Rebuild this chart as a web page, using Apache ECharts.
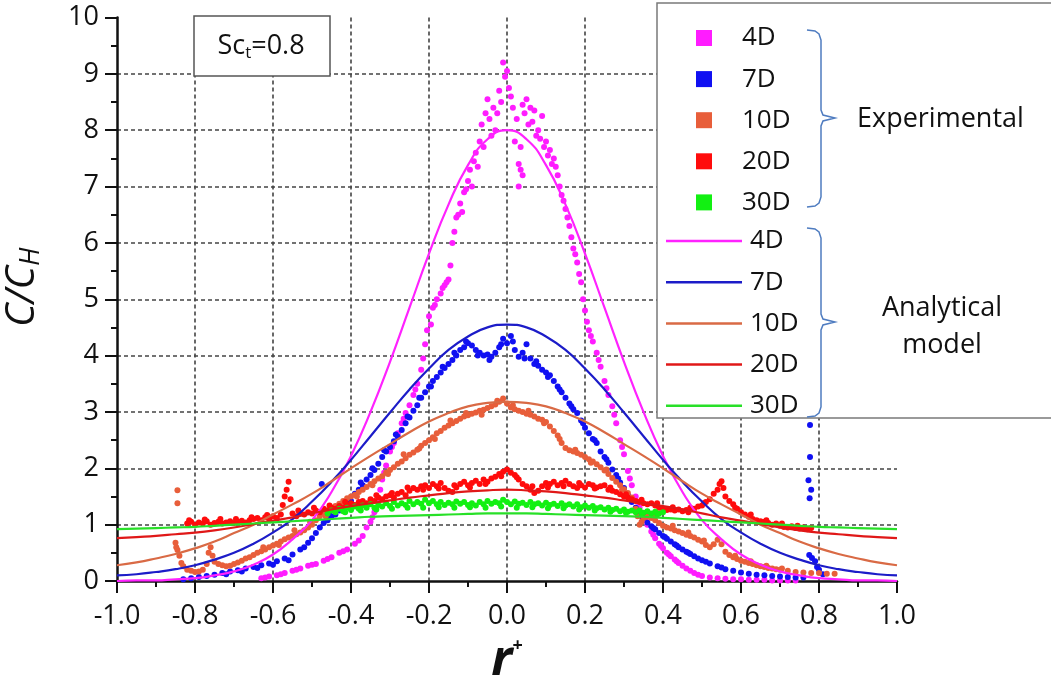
<!DOCTYPE html>
<html>
<head>
<meta charset="utf-8">
<script src="https://cdn.jsdelivr.net/npm/echarts@6/dist/echarts.min.js"></script>
<style>html,body{margin:0;padding:0;background:#fff;}#c{width:1051px;height:688px;}</style>
</head>
<body>
<div id="c"></div>
<script>
// ---- tick labels ----
const xTicks = ['-1.0','-0.8','-0.6','-0.4','-0.2','0.0','0.2','0.4','0.6','0.8','1.0'];
const yTicks = ['0','1','2','3','4','5','6','7','8','9','10'];

// ---- legend names ----
const expNames = ['4D','7D','10D','20D','30D'];
const modelNames = ['4D A','7D A','10D A','20D A','30D A'];

// ---- experimental data [r+, C/CH] ----
const exp4D = [[-0.63,0.05],[-0.61,0.08],[-0.59,0.1],[-0.57,0.14],[-0.55,0.18],[-0.53,0.22],[-0.51,0.27],[-0.49,0.3],[-0.47,0.36],[-0.45,0.42],[-0.43,0.5],[-0.41,0.56],[-0.39,0.66],[-0.37,0.8],[-0.36,0.95],[-0.35,1.05],[-0.34,1.22],[-0.33,1.45],[-0.325,1.62],[-0.32,1.8],[-0.31,2.05],[-0.3,2.3],[-0.29,2.45],[-0.28,2.62],[-0.27,2.8],[-0.26,2.98],[-0.25,3.12],[-0.24,3.3],[-0.23,3.5],[-0.22,3.75],[-0.215,3.95],[-0.21,4.2],[-0.205,4.45],[-0.2,4.7],[-0.195,4.55],[-0.19,4.85],[-0.18,5.0],[-0.17,5.1],[-0.16,5.25],[-0.15,5.35],[-0.145,5.6],[-0.14,6.0],[-0.135,6.2],[-0.13,6.45],[-0.12,6.7],[-0.115,6.55],[-0.11,6.9],[-0.1,7.1],[-0.095,7.3],[-0.09,7.0],[-0.085,7.45],[-0.08,7.6],[-0.075,7.35],[-0.07,7.8],[-0.065,8.1],[-0.06,7.7],[-0.055,8.3],[-0.05,8.55],[-0.045,8.2],[-0.04,7.9],[-0.035,8.4],[-0.03,8.0],[-0.025,8.3],[-0.02,8.7],[-0.015,8.5],[-0.01,9.2],[-0.005,8.95],[0.0,9.05],[0.005,8.75],[0.01,8.6],[0.015,8.4],[0.02,7.8],[0.025,8.2],[0.03,7.0],[0.035,7.3],[0.04,7.2],[0.03,7.4],[0.035,7.7],[0.04,8.45],[0.045,8.3],[0.05,8.55],[0.055,8.1],[0.06,8.4],[0.065,8.15],[0.07,8.35],[0.075,7.9],[0.08,8.0],[0.085,7.85],[0.09,8.25],[0.095,7.7],[0.1,7.8],[0.105,7.55],[0.11,7.65],[0.115,7.4],[0.12,7.5],[0.125,7.35],[0.13,7.2],[0.135,7.0],[0.14,6.85],[0.145,6.75],[0.15,6.6],[0.155,6.45],[0.16,6.3],[0.165,6.1],[0.17,5.9],[0.175,5.8],[0.18,5.65],[0.185,5.45],[0.19,5.3],[0.195,5.0],[0.2,4.8],[0.205,4.6],[0.21,4.45],[0.22,4.25],[0.23,4.05],[0.24,3.8],[0.25,3.55],[0.26,3.3],[0.27,3.1],[0.28,2.8],[0.29,2.5],[0.3,2.25],[0.31,1.95],[0.32,1.7],[0.33,1.5],[0.34,1.3],[0.35,1.15],[0.36,1.0],[0.37,0.88],[0.38,0.76],[0.39,0.66],[0.4,0.58],[0.41,0.5],[0.42,0.44],[0.43,0.38],[0.44,0.32],[0.45,0.27],[0.46,0.22],[0.47,0.18],[0.48,0.14],[0.49,0.11],[0.5,0.09],[0.52,0.06],[0.54,0.05],[0.56,0.04],[0.58,0.03],[0.6,0.03],[0.62,0.02],[0.64,0.02],[0.66,0.02],[0.68,0.01],[0.7,0.01],[0.72,0.01],[0.74,0.01],[-0.62,0.06],[-0.58,0.12],[-0.54,0.2],[-0.5,0.29],[-0.46,0.39],[-0.42,0.53],[-0.38,0.72],[-0.345,1.13],[-0.315,1.92],[-0.295,2.38],[-0.265,2.88],[-0.235,3.4],[-0.185,4.9],[-0.165,5.2],[-0.155,5.3],[-0.125,6.5],[-0.105,6.95],[0.215,4.35],[0.235,3.92],[0.255,3.42],[0.275,2.95],[0.295,2.38],[0.315,1.82],[0.335,1.4],[0.355,1.08],[0.375,0.82],[0.395,0.62],[0.415,0.47],[0.435,0.35]];

const exp7D = [[-0.83,0.03],[-0.81,0.05],[-0.79,0.07],[-0.77,0.09],[-0.75,0.11],[-0.73,0.14],[-0.71,0.17],[-0.69,0.19],[-0.67,0.22],[-0.65,0.25],[-0.63,0.28],[-0.61,0.31],[-0.59,0.35],[-0.57,0.4],[-0.55,0.47],[-0.53,0.56],[-0.51,0.68],[-0.5,0.76],[-0.49,0.85],[-0.48,0.95],[-0.475,1.72],[-0.47,1.03],[-0.46,1.08],[-0.45,1.14],[-0.44,1.18],[-0.43,1.25],[-0.42,1.3],[-0.41,1.36],[-0.4,1.42],[-0.39,1.55],[-0.38,1.62],[-0.37,1.7],[-0.36,1.8],[-0.35,1.88],[-0.34,1.97],[-0.33,2.08],[-0.32,2.2],[-0.31,2.3],[-0.3,2.38],[-0.29,2.48],[-0.28,2.56],[-0.27,2.68],[-0.26,2.8],[-0.25,2.9],[-0.24,3.02],[-0.23,3.12],[-0.22,3.25],[-0.21,3.35],[-0.2,3.45],[-0.19,3.55],[-0.18,3.62],[-0.17,3.7],[-0.16,3.78],[-0.15,3.85],[-0.14,3.92],[-0.13,4.0],[-0.12,4.1],[-0.11,4.15],[-0.1,4.22],[-0.09,4.18],[-0.08,4.1],[-0.07,4.05],[-0.06,4.0],[-0.05,4.02],[-0.04,3.98],[-0.03,4.05],[-0.02,4.15],[-0.01,4.3],[0.0,4.22],[0.01,4.35],[0.02,4.1],[0.03,3.98],[0.04,4.05],[0.05,4.2],[0.06,3.95],[0.07,3.85],[0.08,3.82],[0.09,3.75],[0.1,3.7],[0.11,3.65],[0.12,3.55],[0.13,3.45],[0.14,3.35],[0.15,3.25],[0.16,3.15],[0.17,3.05],[0.18,2.98],[0.19,2.85],[0.2,2.72],[0.21,2.62],[0.22,2.52],[0.23,2.45],[0.24,2.3],[0.25,2.2],[0.26,2.1],[0.27,1.98],[0.28,1.88],[0.29,1.75],[0.3,1.65],[0.31,1.52],[0.32,1.4],[0.33,1.3],[0.34,1.2],[0.35,1.12],[0.36,1.04],[0.37,0.97],[0.38,0.92],[0.39,0.85],[0.4,0.8],[0.41,0.75],[0.42,0.7],[0.43,0.65],[0.44,0.6],[0.45,0.56],[0.46,0.52],[0.47,0.48],[0.48,0.44],[0.49,0.4],[0.5,0.37],[0.52,0.31],[0.54,0.26],[0.56,0.21],[0.58,0.18],[0.6,0.15],[0.62,0.13],[0.64,0.11],[0.66,0.1],[0.68,0.09],[0.7,0.08],[0.72,0.07],[0.74,0.06],[0.76,0.06],[0.777,2.77],[0.777,2.2],[0.773,1.79],[0.78,1.62],[0.776,1.47],[0.775,0.46],[0.782,0.41],[0.79,0.35],[0.795,0.25],[0.8,0.2],[0.81,0.12],[-0.72,0.12],[-0.68,0.17],[-0.64,0.23],[-0.6,0.29],[-0.56,0.37],[-0.52,0.6],[-0.455,1.17],[-0.415,1.4],[-0.375,1.75],[-0.345,2.0],[-0.315,2.32],[-0.285,2.6],[-0.255,2.92],[-0.225,3.25],[-0.195,3.45],[-0.165,3.8],[-0.135,4.05],[-0.105,4.25],[-0.075,4.0],[-0.045,3.92],[-0.015,4.2],[0.015,4.25],[0.045,3.95],[0.075,3.9],[0.105,3.62],[0.135,3.4],[0.165,3.1],[0.195,2.8],[0.225,2.5],[0.255,2.16],[0.285,1.82],[0.315,1.46],[0.345,1.15],[0.375,0.94],[0.405,0.78],[0.435,0.63],[0.465,0.5],[0.51,0.34],[0.55,0.24]];

const exp10D = [[-0.845,1.61],[-0.845,1.38],[-0.85,0.68],[-0.848,0.6],[-0.845,0.55],[-0.84,0.45],[-0.835,0.32],[-0.83,0.26],[-0.82,0.2],[-0.81,0.18],[-0.8,0.16],[-0.79,0.17],[-0.78,0.2],[-0.77,0.3],[-0.765,0.5],[-0.76,0.6],[-0.755,0.45],[-0.75,0.34],[-0.74,0.3],[-0.73,0.28],[-0.72,0.26],[-0.71,0.27],[-0.7,0.3],[-0.69,0.33],[-0.68,0.36],[-0.67,0.4],[-0.66,0.42],[-0.65,0.46],[-0.64,0.5],[-0.63,0.53],[-0.62,0.56],[-0.61,0.6],[-0.6,0.63],[-0.59,0.66],[-0.58,0.7],[-0.57,0.74],[-0.56,0.77],[-0.55,0.8],[-0.54,0.83],[-0.53,0.86],[-0.52,0.9],[-0.51,0.95],[-0.5,1.0],[-0.49,1.08],[-0.48,1.15],[-0.47,1.2],[-0.46,1.25],[-0.45,1.3],[-0.44,1.33],[-0.43,1.37],[-0.42,1.42],[-0.41,1.47],[-0.4,1.5],[-0.39,1.53],[-0.38,1.58],[-0.37,1.62],[-0.36,1.67],[-0.35,1.72],[-0.34,1.77],[-0.33,1.82],[-0.32,1.86],[-0.31,1.92],[-0.3,1.97],[-0.29,2.02],[-0.28,2.08],[-0.27,2.12],[-0.26,2.18],[-0.25,2.24],[-0.24,2.28],[-0.23,2.33],[-0.22,2.4],[-0.21,2.45],[-0.2,2.5],[-0.19,2.55],[-0.18,2.62],[-0.17,2.66],[-0.16,2.72],[-0.15,2.76],[-0.14,2.8],[-0.13,2.84],[-0.12,2.88],[-0.11,2.92],[-0.1,2.94],[-0.09,2.97],[-0.08,2.99],[-0.07,3.02],[-0.06,3.04],[-0.05,3.07],[-0.04,3.1],[-0.03,3.13],[-0.02,3.18],[-0.01,3.24],[0.0,3.15],[0.01,3.08],[0.02,3.05],[0.03,3.02],[0.04,3.0],[0.05,2.97],[0.06,2.95],[0.07,2.92],[0.08,2.88],[0.09,2.86],[0.1,2.82],[0.11,2.74],[0.12,2.66],[0.13,2.58],[0.14,2.45],[0.15,2.36],[0.16,2.32],[0.17,2.3],[0.18,2.27],[0.19,2.24],[0.2,2.2],[0.21,2.16],[0.22,2.12],[0.23,2.07],[0.24,2.02],[0.25,1.96],[0.26,1.9],[0.27,1.83],[0.28,1.76],[0.29,1.7],[0.3,1.63],[0.31,1.56],[0.32,1.48],[0.33,1.28],[0.335,1.15],[0.34,1.0],[0.345,1.05],[0.35,1.12],[0.36,1.14],[0.37,1.12],[0.38,1.08],[0.39,1.03],[0.4,0.98],[0.41,0.95],[0.42,0.93],[0.43,0.9],[0.44,0.88],[0.45,0.85],[0.46,0.82],[0.47,0.8],[0.48,0.77],[0.49,0.73],[0.5,0.7],[0.51,0.64],[0.52,0.6],[0.53,0.65],[0.54,0.73],[0.55,0.65],[0.56,0.52],[0.57,0.46],[0.58,0.42],[0.59,0.39],[0.6,0.36],[0.61,0.34],[0.62,0.32],[0.63,0.3],[0.64,0.28],[0.65,0.26],[0.66,0.25],[0.67,0.23],[0.68,0.22],[0.69,0.21],[0.7,0.2],[0.72,0.18],[0.74,0.16],[0.76,0.15],[0.78,0.14],[0.8,0.14],[0.82,0.13],[0.84,0.13],[-0.625,0.6],[-0.585,0.64],[-0.545,0.9],[-0.505,1.05],[-0.465,1.15],[-0.425,1.32],[-0.385,1.5],[-0.345,1.7],[-0.305,1.9],[-0.265,2.25],[-0.225,2.35],[-0.185,2.52],[-0.145,2.85],[-0.105,2.98],[-0.065,2.95],[-0.025,3.2],[0.015,3.12],[0.055,3.02],[0.095,2.8],[0.135,2.52],[0.175,2.33],[0.215,2.1],[0.255,1.98],[0.295,1.62],[0.375,1.16],[0.425,0.98],[0.465,0.86],[0.505,0.72],[0.585,0.45],[0.625,0.35],[0.665,0.27],[0.705,0.22]];

const exp20D = [[-0.82,1.02],[-0.81,1.05],[-0.8,1.0],[-0.79,1.04],[-0.78,1.02],[-0.77,1.06],[-0.76,1.0],[-0.75,1.03],[-0.74,1.05],[-0.73,1.02],[-0.72,1.04],[-0.71,1.06],[-0.7,1.03],[-0.69,1.05],[-0.68,1.07],[-0.67,1.04],[-0.66,1.08],[-0.65,1.1],[-0.64,1.12],[-0.63,1.08],[-0.62,1.13],[-0.61,1.1],[-0.6,1.15],[-0.59,1.12],[-0.58,1.18],[-0.575,1.35],[-0.57,1.5],[-0.565,1.62],[-0.56,1.76],[-0.555,1.45],[-0.55,1.2],[-0.54,1.15],[-0.53,1.2],[-0.52,1.18],[-0.51,1.22],[-0.5,1.2],[-0.49,1.25],[-0.48,1.22],[-0.47,1.28],[-0.46,1.25],[-0.45,1.3],[-0.44,1.28],[-0.43,1.33],[-0.42,1.3],[-0.41,1.35],[-0.4,1.38],[-0.39,1.35],[-0.38,1.4],[-0.37,1.42],[-0.36,1.38],[-0.35,1.45],[-0.34,1.42],[-0.33,1.48],[-0.32,1.45],[-0.31,1.5],[-0.3,1.52],[-0.29,1.48],[-0.28,1.55],[-0.27,1.58],[-0.26,1.52],[-0.25,1.6],[-0.24,1.65],[-0.23,1.62],[-0.22,1.68],[-0.21,1.7],[-0.2,1.65],[-0.19,1.72],[-0.18,1.68],[-0.17,1.74],[-0.16,1.65],[-0.15,1.6],[-0.14,1.58],[-0.13,1.66],[-0.12,1.72],[-0.11,1.76],[-0.1,1.7],[-0.09,1.74],[-0.08,1.78],[-0.07,1.72],[-0.06,1.8],[-0.05,1.76],[-0.04,1.82],[-0.03,1.85],[-0.02,1.9],[-0.01,1.94],[0.0,1.98],[0.01,1.92],[0.02,1.88],[0.03,1.8],[0.04,1.72],[0.05,1.68],[0.06,1.62],[0.07,1.56],[0.08,1.6],[0.09,1.68],[0.1,1.74],[0.11,1.72],[0.12,1.76],[0.13,1.7],[0.14,1.74],[0.15,1.78],[0.16,1.72],[0.17,1.68],[0.18,1.65],[0.19,1.7],[0.2,1.66],[0.21,1.72],[0.22,1.7],[0.23,1.66],[0.24,1.68],[0.25,1.7],[0.26,1.62],[0.27,1.6],[0.28,1.58],[0.29,1.54],[0.3,1.5],[0.31,1.48],[0.32,1.45],[0.33,1.42],[0.34,1.4],[0.35,1.38],[0.36,1.36],[0.37,1.38],[0.38,1.34],[0.39,1.3],[0.4,1.28],[0.41,1.26],[0.42,1.27],[0.43,1.25],[0.44,1.27],[0.45,1.24],[0.46,1.26],[0.47,1.3],[0.48,1.28],[0.49,1.32],[0.5,1.34],[0.51,1.4],[0.52,1.45],[0.53,1.55],[0.54,1.62],[0.545,1.72],[0.55,1.77],[0.555,1.65],[0.56,1.5],[0.57,1.42],[0.58,1.36],[0.59,1.28],[0.6,1.22],[0.61,1.18],[0.62,1.14],[0.63,1.1],[0.64,1.08],[0.65,1.06],[0.66,1.05],[0.67,1.03],[0.68,1.0],[0.69,1.02],[0.7,0.98],[0.71,0.96],[0.72,0.95],[0.73,0.97],[0.74,0.94],[0.75,0.93],[0.76,0.95],[0.77,0.92],[0.78,0.94],[-0.815,1.08],[-0.775,1.09],[-0.735,1.1],[-0.695,1.1],[-0.655,1.13],[-0.615,1.17],[-0.535,1.25],[-0.495,1.3],[-0.455,1.34],[-0.415,1.4],[-0.375,1.36],[-0.335,1.52],[-0.295,1.56],[-0.255,1.66],[-0.215,1.62],[-0.175,1.64],[-0.135,1.7],[-0.095,1.66],[-0.055,1.72],[-0.015,1.86],[0.025,1.84],[0.065,1.68],[0.105,1.66],[0.145,1.68],[0.185,1.74],[0.225,1.64],[0.265,1.66],[0.305,1.54],[0.345,1.44],[0.385,1.38],[0.425,1.31],[0.465,1.22],[0.505,1.38],[0.585,1.3],[0.625,1.18],[0.665,1.08],[0.705,1.02],[0.745,0.98]];

const exp30D = [[-0.46,1.2],[-0.45,1.25],[-0.44,1.22],[-0.43,1.28],[-0.42,1.24],[-0.41,1.3],[-0.4,1.26],[-0.39,1.32],[-0.38,1.28],[-0.37,1.34],[-0.36,1.3],[-0.35,1.36],[-0.34,1.3],[-0.33,1.35],[-0.32,1.32],[-0.31,1.38],[-0.3,1.33],[-0.29,1.4],[-0.28,1.34],[-0.27,1.38],[-0.26,1.35],[-0.25,1.42],[-0.24,1.36],[-0.23,1.4],[-0.22,1.37],[-0.21,1.44],[-0.2,1.38],[-0.19,1.42],[-0.18,1.36],[-0.17,1.4],[-0.16,1.35],[-0.15,1.39],[-0.14,1.36],[-0.13,1.41],[-0.12,1.37],[-0.11,1.4],[-0.1,1.35],[-0.09,1.38],[-0.08,1.34],[-0.07,1.4],[-0.06,1.36],[-0.05,1.42],[-0.04,1.37],[-0.03,1.4],[-0.02,1.38],[-0.01,1.44],[0.0,1.4],[0.01,1.36],[0.02,1.41],[0.03,1.37],[0.04,1.39],[0.05,1.35],[0.06,1.4],[0.07,1.36],[0.08,1.38],[0.09,1.34],[0.1,1.39],[0.11,1.35],[0.12,1.37],[0.13,1.33],[0.14,1.38],[0.15,1.34],[0.16,1.36],[0.17,1.32],[0.18,1.36],[0.19,1.31],[0.2,1.34],[0.21,1.3],[0.22,1.33],[0.23,1.29],[0.24,1.31],[0.25,1.27],[0.26,1.3],[0.27,1.26],[0.28,1.28],[0.29,1.24],[0.3,1.27],[0.31,1.23],[0.32,1.25],[0.33,1.22],[0.34,1.25],[0.35,1.21],[0.36,1.24],[0.37,1.2],[0.38,1.23],[0.39,1.2],[0.4,1.22],[-0.415,1.22],[-0.375,1.25],[-0.335,1.27],[-0.295,1.28],[-0.255,1.3],[-0.215,1.3],[-0.175,1.31],[-0.135,1.3],[-0.095,1.31],[-0.055,1.3],[-0.015,1.32],[0.025,1.3],[0.065,1.31],[0.105,1.29],[0.145,1.29],[0.185,1.27],[0.225,1.25],[0.265,1.23],[0.305,1.21],[0.345,1.19],[0.385,1.18]];

// ---- analytical model ----
const modelX = [-1.0,-0.95,-0.9,-0.85,-0.8,-0.75,-0.7,-0.65,-0.6,-0.55,-0.5,-0.45,-0.4,-0.35,-0.3,-0.25,-0.2,-0.15,-0.1,-0.05,0.0,0.05,0.1,0.15,0.2,0.25,0.3,0.35,0.4,0.45,0.5,0.55,0.6,0.65,0.7,0.75,0.8,0.85,0.9,0.95,1.0];
const model4D = [0.0,0.01,0.01,0.03,0.05,0.1,0.17,0.29,0.47,0.74,1.08,1.58,2.22,3.0,3.89,4.85,5.81,6.68,7.38,7.84,8.0,7.84,7.38,6.68,5.81,4.85,3.89,3.0,2.22,1.58,1.08,0.74,0.47,0.29,0.17,0.1,0.05,0.03,0.01,0.01,0.0];
const model7D = [0.1,0.12,0.16,0.21,0.28,0.38,0.5,0.66,0.86,1.1,1.41,1.76,2.15,2.57,2.99,3.4,3.77,4.1,4.34,4.5,4.55,4.5,4.34,4.1,3.77,3.4,2.99,2.57,2.15,1.76,1.41,1.1,0.86,0.66,0.5,0.38,0.28,0.21,0.16,0.12,0.1];
const model10D = [0.28,0.33,0.4,0.48,0.58,0.7,0.85,1.0,1.18,1.36,1.55,1.77,2.0,2.22,2.43,2.64,2.83,2.98,3.1,3.16,3.18,3.16,3.1,2.98,2.83,2.64,2.43,2.22,2.0,1.77,1.55,1.36,1.18,1.0,0.85,0.7,0.58,0.48,0.4,0.33,0.28];
const model20D = [0.76,0.78,0.8,0.83,0.86,0.9,0.95,1.01,1.07,1.13,1.2,1.27,1.33,1.38,1.43,1.48,1.52,1.56,1.59,1.61,1.62,1.61,1.59,1.56,1.52,1.48,1.43,1.38,1.33,1.27,1.2,1.13,1.07,1.01,0.95,0.9,0.86,0.83,0.8,0.78,0.76];
const model30D = [0.92,0.93,0.94,0.95,0.96,0.98,1.0,1.02,1.04,1.06,1.08,1.1,1.12,1.14,1.15,1.16,1.17,1.18,1.19,1.2,1.2,1.2,1.19,1.18,1.17,1.16,1.15,1.14,1.12,1.1,1.08,1.06,1.04,1.02,1.0,0.98,0.96,0.95,0.94,0.93,0.92];

const expColors = ['#ff1cff','#1010f2','#e85e3a','#ff0c0c','#12f012'];
const modelColors = ['#ff22ff','#1c1cc8','#d96a45','#e01818','#28e028'];

const FONT = 'Open Sans';
const expData = [exp4D, exp7D, exp10D, exp20D, exp30D];
const modelData = [model4D, model7D, model10D, model20D, model30D];

const series = [];
expNames.forEach((n, i) => {
  series.push({
    name: n, type: 'scatter', data: expData[i], symbol: 'circle', symbolSize: 6,
    itemStyle: { color: expColors[i], opacity: 1 }, z: 2, silent: true
  });
});
modelNames.forEach((n, i) => {
  series.push({
    name: n, type: 'line', data: modelX.map((x, k) => [x, modelData[i][k]]),
    symbol: 'none', smooth: true, lineStyle: { color: modelColors[i], width: 2.2 },
    itemStyle: { color: modelColors[i] }, z: 3, silent: true
  });
});

function brace(top, mid, bot) {
  return [[807, top], [815, top + 1], [819, top + 4], [821, top + 10], [821, mid - 8], [823, mid - 3], [835, mid],
          [823, mid + 3], [821, mid + 8], [821, bot - 10], [819, bot - 4], [815, bot - 1], [807, bot]];
}

const axisCommon = {
  axisLine: { show: true, onZero: false, lineStyle: { color: '#111', width: 2.5 } },
  axisTick: { show: true, inside: false, length: 12, lineStyle: { color: '#111', width: 2 } },
  minorTick: { show: true, splitNumber: 2, length: 6, lineStyle: { color: '#111', width: 2 } },
  splitLine: { show: true, showMinLine: false, showMaxLine: false, lineStyle: { color: '#444', type: [4, 3], width: 1.6 } }
};

const chart = echarts.init(document.getElementById('c'));
chart.setOption({
  animation: false,
  backgroundColor: '#ffffff',
  grid: { left: 117, right: 154, top: 17.5, bottom: 107, containLabel: false, outerBoundsMode: 'none' },
  xAxis: Object.assign({
    type: 'value', min: -1.0, max: 1.0, interval: 0.2,
    axisLabel: { margin: 22, color: '#111', fontSize: 27, fontFamily: FONT,
      formatter: v => xTicks[Math.round((v + 1) / 0.2)] },
    name: '{r|r}{p|+}', nameLocation: 'middle', nameGap: 55,
    nameTextStyle: { rich: {
      r: { fontSize: 50, fontStyle: 'italic', fontWeight: 'bold', fontFamily: FONT, color: '#111' },
      p: { fontSize: 18, fontWeight: 'bold', fontFamily: FONT, color: '#111', padding: [0, 0, 30, 0] } } }
  }, axisCommon),
  yAxis: Object.assign({
    type: 'value', min: 0, max: 10, interval: 1,
    axisLabel: { margin: 18, color: '#111', fontSize: 27, fontFamily: FONT,
      formatter: v => yTicks[Math.round(v)] },
    name: '{c|C/C}{h|H}', nameLocation: 'middle', nameGap: 72, nameRotate: 90,
    nameTextStyle: { padding: [0, 0, 0, 24], rich: {
      c: { fontSize: 40, fontStyle: 'italic', fontFamily: FONT, color: '#111' },
      h: { fontSize: 27, fontStyle: 'italic', fontFamily: FONT, color: '#111', padding: [17, 0, 0, 0] } } }
  }, axisCommon),
  legend: [
    {
      data: expNames, orient: 'vertical', left: 691, top: 20, itemWidth: 16, itemHeight: 16,
      itemGap: 15.1, icon: 'rect', selectedMode: false, z: 6,
      textStyle: { fontSize: 26, fontFamily: FONT, color: '#111', padding: [0, 0, 0, 25] }
    },
    {
      data: modelNames, orient: 'vertical', left: 661, top: 223, itemWidth: 76, itemHeight: 2.5,
      itemGap: 15.2, icon: 'rect', selectedMode: false, z: 6,
      formatter: n => n.replace(' A', ''),
      textStyle: { fontSize: 26, fontFamily: FONT, color: '#111', padding: [0, 0, 0, 3] }
    }
  ],
  graphic: [
    { type: 'rect', z: 5, shape: { x: 657, y: 3, width: 410, height: 415 },
      style: { fill: '#fff', stroke: '#7a7a7a', lineWidth: 1.5 } },
    { type: 'polyline', z: 7, shape: { points: brace(30, 118, 207) },
      style: { fill: null, stroke: '#4f7cc0', lineWidth: 1.5 } },
    { type: 'polyline', z: 7, shape: { points: brace(228, 322, 417) },
      style: { fill: null, stroke: '#4f7cc0', lineWidth: 1.5 } },
    { type: 'text', z: 7, style: { x: 857, y: 119, text: 'Experimental', font: '27px "Open Sans"', fill: '#111', verticalAlign: 'middle', align: 'left' } },
    { type: 'text', z: 7, style: { x: 942, y: 308, text: 'Analytical', font: '27px "Open Sans"', fill: '#111', verticalAlign: 'middle', align: 'center' } },
    { type: 'text', z: 7, style: { x: 942, y: 345, text: 'model', font: '27px "Open Sans"', fill: '#111', verticalAlign: 'middle', align: 'center' } },
    { type: 'rect', z: 5, shape: { x: 194, y: 16, width: 136, height: 60 },
      style: { fill: '#fff', stroke: '#555', lineWidth: 1.5 } },
    { type: 'text', z: 7, style: { x: 261, y: 46, text: '{a|Sc}{b|t}{a|=0.8}', align: 'center', verticalAlign: 'middle',
      rich: { a: { fontSize: 27, fontFamily: FONT, fill: '#111' }, b: { fontSize: 17, fontFamily: FONT, fill: '#111', padding: [14, 0, 0, 0] } } } }
  ],
  series: series
});
</script>
</body>
</html>
